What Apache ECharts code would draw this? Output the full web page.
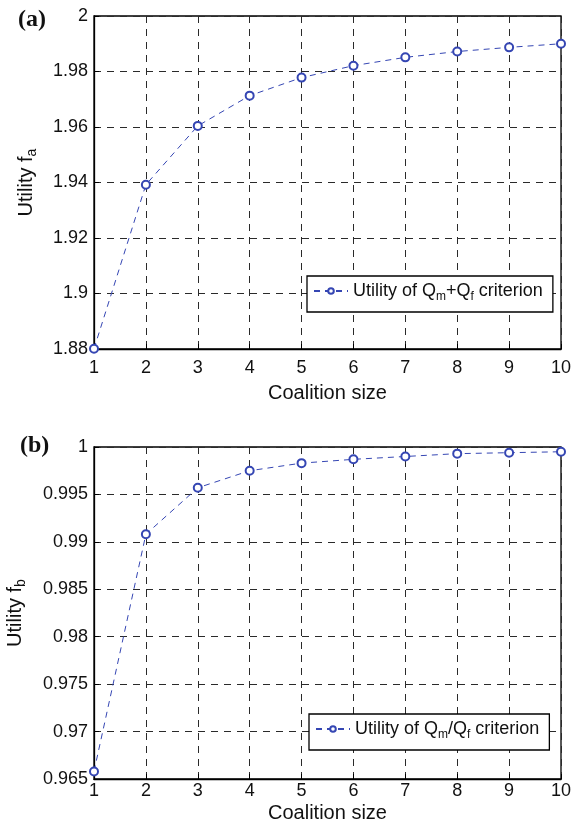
<!DOCTYPE html>
<html><head><meta charset="utf-8">
<script src="https://cdn.jsdelivr.net/npm/echarts@6/dist/echarts.min.js"></script>
<style>html,body{margin:0;padding:0;background:#fff}#c{width:575px;height:824px}</style>
</head><body><div id="c"></div>
<script>
const coalitionSize = [1,2,3,4,5,6,7,8,9,10];
const utilityA = [1.8801,1.9392,1.9604,1.9713,1.9778,1.9821,1.9851,1.9872,1.9887,1.9900];
const utilityB = [0.9658,0.9908,0.9957,0.9975,0.9983,0.9987,0.9990,0.9993,0.9994,0.9995];
const yTicksA = [1.88,1.9,1.92,1.94,1.96,1.98,2];
const yTicksB = [0.965,0.97,0.975,0.98,0.985,0.99,0.995,1];

const FONT = 'Liberation Sans, Arial, sans-serif';
const blue = '#3546b3';
const gridLine = {show:true, lineStyle:{color:'#2a2a2a', width:1, type:[7,6]}};
function xAxis(gi, nameGap, margin){
  return {type:'value', gridIndex:gi, min:1, max:10, interval:1,
    name:'Coalition size', nameLocation:'middle', nameGap:nameGap,
    nameTextStyle:{fontFamily:FONT, fontSize:20, color:'#111'},
    axisLine:{show:true, onZero:false, lineStyle:{color:'#000', width:1.3}},
    axisTick:{show:true, inside:true, length:5, lineStyle:{color:'#000'}},
    axisLabel:{fontFamily:FONT, fontSize:18, color:'#111', margin:margin},
    splitLine:gridLine};
}
function yAxis(gi, min, max, interval, sub, nameGap, ticks){
  return {type:'value', gridIndex:gi, min:min, max:max, interval:interval,
    name:'{n|Utility f}{s|'+sub+'}', nameLocation:'middle', nameGap:nameGap, nameRotate:90,
    nameTextStyle:{rich:{n:{fontFamily:FONT, fontSize:20, color:'#111'}, s:{fontFamily:FONT, fontSize:14, color:'#111', padding:[12,0,0,0]}}},
    axisLine:{show:true, onZero:false, lineStyle:{color:'#000', width:1.3}},
    axisTick:{show:true, inside:true, length:5, lineStyle:{color:'#000'}},
    axisLabel:{fontFamily:FONT, fontSize:18, color:'#111', margin:6,
      formatter:v=>{const t=ticks.find(k=>Math.abs(k-v)<1e-9); return t===undefined?'':String(t);}},
    splitLine:gridLine};
}
function series(gi, data, name){
  return {type:'line', name:name, xAxisIndex:gi, yAxisIndex:gi,
    data:coalitionSize.map((x,i)=>[x,data[i]]),
    symbol:'emptyCircle', symbolSize:8,
    itemStyle:{color:blue, borderWidth:1.2},
    lineStyle:{color:blue, width:1, type:[6,5]}, animation:false, z:5};
}
const legendRich = {n:{fontFamily:FONT, fontSize:18, color:'#111'}, s:{fontFamily:FONT, fontSize:12, color:'#111', padding:[12,0,0,0]}};
const chart = echarts.init(document.getElementById('c'), null, {renderer:'canvas'});
chart.setOption({
  animation:false,
  grid:[
    {left:94, top:16, width:467, height:333, show:true, borderColor:'#000', borderWidth:1.3, backgroundColor:'transparent', containLabel:false, outerBoundsMode:'none'},
    {left:94, top:447, width:467, height:332, show:true, borderColor:'#000', borderWidth:1.3, backgroundColor:'transparent', containLabel:false, outerBoundsMode:'none'}
  ],
  xAxis:[xAxis(0,34,10), xAxis(1,24,3)],
  yAxis:[yAxis(0,1.88,2,0.02,'a',55,yTicksA), yAxis(1,0.965,1,0.005,'b',66,yTicksB)],
  legend:[
    {data:['A'], left:307, top:276, itemWidth:34, itemHeight:7, itemGap:4,
     backgroundColor:'#fff', borderColor:'#000', borderWidth:1.3, padding:[6,10,9,6],
     formatter:()=>'{n|Utility of Q}{s|m}{n|+Q}{s|f}{n| criterion}',
     textStyle:{rich:legendRich}},
    {data:['B'], left:309, top:714, itemWidth:34, itemHeight:7, itemGap:4,
     backgroundColor:'#fff', borderColor:'#000', borderWidth:1.3, padding:[6,10,9,6],
     formatter:()=>'{n|Utility of Q}{s|m}{n|/Q}{s|f}{n| criterion}',
     textStyle:{rich:legendRich}}
  ],
  series:[series(0, utilityA, 'A'), series(1, utilityB, 'B')],
  graphic:[
    {type:'text', left:18, top:8, style:{text:'(a)', font:'bold 24px "Liberation Serif", "Times New Roman", serif', fill:'#111'}},
    {type:'text', left:20, top:434, style:{text:'(b)', font:'bold 24px "Liberation Serif", "Times New Roman", serif', fill:'#111'}}
  ]
});
</script></body></html>
